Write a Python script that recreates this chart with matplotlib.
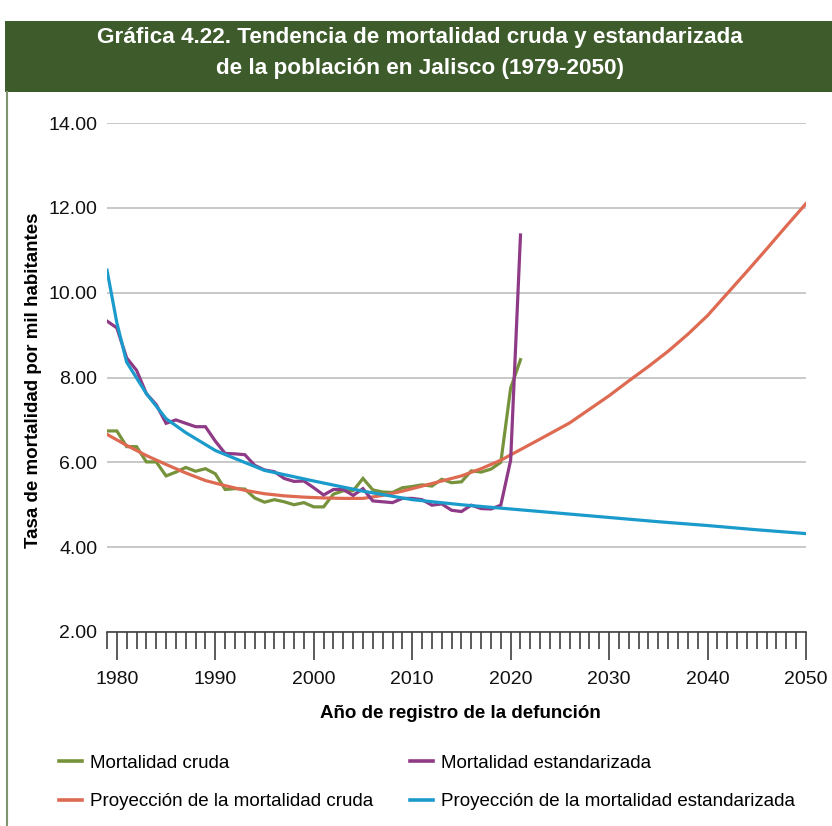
import numpy as np
import matplotlib
matplotlib.use("Agg")
import matplotlib.pyplot as plt
from matplotlib.patches import Rectangle
from matplotlib.lines import Line2D
from matplotlib.ticker import MultipleLocator, FixedLocator, FormatStrFormatter

# ---- data ----
years_hist = list(range(1979, 2022))
mort_cruda = [6.74, 6.74, 6.37, 6.37, 6.01, 6.01, 5.68, 5.77, 5.88, 5.79,
              5.85, 5.73, 5.36, 5.38, 5.37, 5.16, 5.06, 5.12, 5.07, 5.00,
              5.05, 4.95, 4.95, 5.25, 5.33, 5.33, 5.62, 5.35, 5.30, 5.29,
              5.40, 5.43, 5.47, 5.44, 5.60, 5.52, 5.54, 5.80, 5.77, 5.84,
              6.00, 7.75, 8.42]
mort_estandarizada = [9.33, 9.17, 8.46, 8.17, 7.62, 7.36, 6.92, 7.00, 6.92, 6.84,
                      6.84, 6.50, 6.21, 6.20, 6.18, 5.93, 5.82, 5.78, 5.62, 5.55,
                      5.56, 5.40, 5.23, 5.36, 5.36, 5.22, 5.38, 5.09, 5.07, 5.05,
                      5.15, 5.15, 5.12, 4.99, 5.02, 4.87, 4.84, 4.99, 4.91, 4.90,
                      4.99, 6.05, 11.36]

years_proy_cruda = [1979, 1981, 1983, 1985, 1987, 1989, 1991, 1993, 1995, 1997,
                    1999, 2001, 2003, 2005, 2007, 2009, 2011, 2013, 2015, 2017,
                    2019, 2021, 2023, 2026, 2028, 2030, 2032, 2034, 2036, 2038,
                    2040, 2042, 2044, 2046, 2048, 2050]
proy_cruda = [6.66, 6.40, 6.16, 5.95, 5.75, 5.57, 5.45, 5.34, 5.26, 5.21,
              5.18, 5.16, 5.15, 5.15, 5.22, 5.32, 5.44, 5.56, 5.68, 5.85,
              6.05, 6.30, 6.55, 6.93, 7.25, 7.57, 7.92, 8.26, 8.62, 9.02,
              9.46, 9.98, 10.50, 11.03, 11.57, 12.10]

years_proy_est = [1979, 1980, 1981, 1983, 1985, 1987, 1990, 1992, 1995, 2000,
                  2005, 2010, 2015, 2020, 2025, 2030, 2035, 2040, 2045, 2050]
proy_estandarizada = [10.53, 9.29, 8.36, 7.62, 7.03, 6.70, 6.28, 6.09, 5.81, 5.56,
                      5.32, 5.12, 5.00, 4.90, 4.80, 4.70, 4.60, 4.51, 4.41, 4.32]

labels = ["Mortalidad cruda", "Mortalidad estandarizada",
          "Proyección de la mortalidad cruda",
          "Proyección de la mortalidad estandarizada"]
title = "Gráfica 4.22. Tendencia de mortalidad cruda y estandarizada\nde la población en Jalisco (1979-2050)"

# ---- style ----
c_green = "#76933c"
c_purple = "#8e3a86"
c_red = "#dd6a51"
c_blue = "#1a9bcc"
band = "#3e5b2b"
border = "#7f9470"
lw = 2.3

plt.rcParams["font.family"] = ["Liberation Sans", "DejaVu Sans"]

W, H = 832, 826
fig = plt.figure(figsize=(W / 100, H / 100), dpi=100)

# title band and left border
fig.add_artist(Rectangle((5 / W, 1 - 92 / H), 1 - 5 / W, 71 / H,
                         transform=fig.transFigure, facecolor=band,
                         edgecolor="none", zorder=0))
fig.add_artist(Line2D([7 / W, 7 / W], [0, 1 - 92 / H], transform=fig.transFigure,
                      color=border, lw=1.5))
fig.text(0.505, 1 - 53 / H, title, ha="center", va="center", color="white",
         fontsize=16.2, fontweight="bold", linespacing=1.62)

ax = fig.add_axes([107 / W, 1 - 632 / H, 699 / W, 509 / H])

l1, = ax.plot(years_hist, mort_cruda, color=c_green, lw=lw, label=labels[0],
              solid_joinstyle="miter", zorder=3)
l2, = ax.plot(years_hist, mort_estandarizada, color=c_purple, lw=lw, label=labels[1],
              solid_joinstyle="miter", zorder=4)
l3, = ax.plot(years_proy_cruda, proy_cruda, color=c_red, lw=lw, label=labels[2], zorder=3)
l4, = ax.plot(years_proy_est, proy_estandarizada, color=c_blue, lw=lw, label=labels[3],
              zorder=5)

ax.set_xlim(1979, 2050)
ax.set_ylim(2, 14)
ax.yaxis.set_major_locator(MultipleLocator(2))
ax.yaxis.set_major_formatter(FormatStrFormatter("%.2f"))
ax.xaxis.set_major_locator(FixedLocator(list(range(1980, 2051, 10))))
ax.xaxis.set_minor_locator(MultipleLocator(1))
ax.grid(axis="y", color="#c8c8c8", lw=1.4)
ax.set_axisbelow(True)

for s in ["top", "right", "left"]:
    ax.spines[s].set_visible(False)
ax.spines["bottom"].set_color("#404040")
ax.spines["bottom"].set_linewidth(1.2)

ax.tick_params(axis="y", length=0, pad=7, labelsize=14, labelcolor="#111111")
ax.tick_params(axis="x", which="major", direction="out", length=20, width=1.2,
               color="#404040", pad=8, labelsize=14, labelcolor="#111111")
ax.tick_params(axis="x", which="minor", direction="out", length=12, width=1.2,
               color="#404040")

ax.set_xlabel("Año de registro de la defunción", fontsize=13.5, fontweight="bold")
ax.set_ylabel("Tasa de mortalidad por mil habitantes", fontsize=13.5,
              fontweight="bold")
ax.xaxis.set_label_coords(353 / 699, -(713 - 632) / 509)
ax.yaxis.set_label_coords(-(107 - 34) / 699, (632 - 380) / 509)
ax.xaxis.label.set_va("center")
ax.yaxis.label.set_va("center")

leg = fig.legend([l1, l3, l2, l4], [labels[0], labels[2], labels[1], labels[3]],
                 ncol=2, loc="upper left", bbox_to_anchor=(42 / W, 1 - 738 / H),
                 frameon=False, fontsize=13.5, handlelength=1.25, handletextpad=0.4,
                 columnspacing=1.95, labelspacing=1.12)
for h in leg.legend_handles:
    h.set_linewidth(2.6)

fig.savefig("out.png", dpi=100, facecolor="white")
